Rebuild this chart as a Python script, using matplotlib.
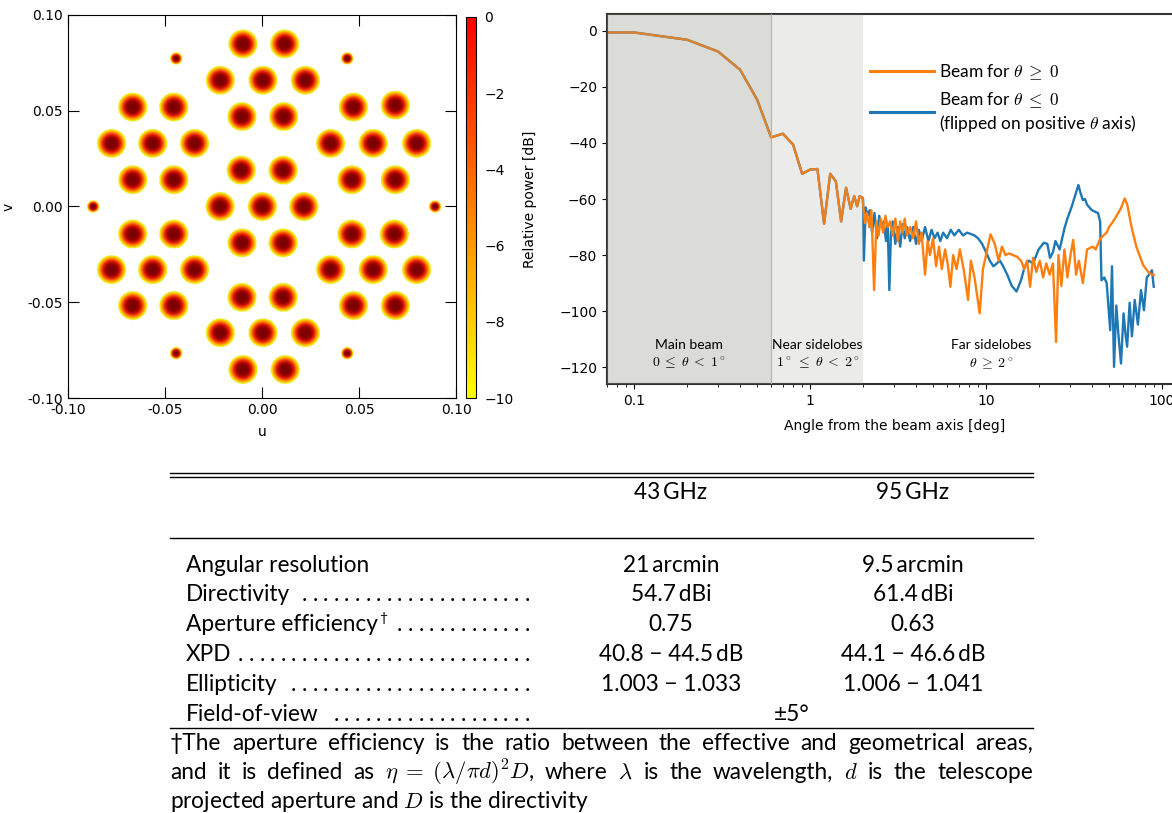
import numpy as np
import matplotlib.pyplot as plt
from matplotlib.colors import LinearSegmentedColormap, Normalize
from matplotlib.cm import ScalarMappable
from matplotlib.lines import Line2D

plt.rcParams['mathtext.fontset'] = 'cm'

W, H = 1172, 813
TXT = ['Lato', 'DejaVu Sans']

# --- focal plane beams (u, v centres and beam widths) ---
beam_u = [-0.0098, 0.0117,
          -0.0215, 0.0005, 0.0224,
          -0.0667, -0.0455, 0.0472, 0.0688,
          -0.0103, 0.0112,
          -0.0776, -0.0564, -0.0348, 0.0354, 0.0574, 0.0798,
          -0.0107, 0.0109,
          -0.0667, -0.0455, 0.0464, 0.0688,
          -0.0216, 0.0002, 0.0216,
          -0.0667, -0.0455, 0.0464, 0.0683,
          -0.0103, 0.0109,
          -0.0776, -0.0564, -0.0348, 0.0354, 0.0574, 0.0798,
          -0.0103, 0.0109,
          -0.0667, -0.0455, 0.0472, 0.0688,
          -0.0215, 0.0005, 0.0224,
          -0.0098, 0.0120,
          -0.0443, 0.0440, -0.0871, 0.0893, -0.0443, 0.0440]
beam_v = [0.085, 0.085,
          0.066, 0.066, 0.066,
          0.052, 0.052, 0.052, 0.053,
          0.047, 0.047,
          0.033, 0.033, 0.033, 0.033, 0.033, 0.033,
          0.019, 0.019,
          0.014, 0.014, 0.014, 0.014,
          0.0, 0.0, 0.0,
          -0.0144, -0.0144, -0.0144, -0.0144,
          -0.019, -0.019,
          -0.033, -0.033, -0.033, -0.033, -0.033, -0.033,
          -0.0475, -0.0475,
          -0.0518, -0.0518, -0.0518, -0.0518,
          -0.066, -0.066, -0.066,
          -0.0852, -0.0852,
          0.0774, 0.0774, 0.0, 0.0, -0.0767, -0.0767]
beam_width = [0.0075] * 49 + [0.0032] * 6
cbar_ticks = [0, -2, -4, -6, -8, -10]

# --- radiation pattern cuts ---
theta_core = [0.07, 0.1, 0.2, 0.3, 0.4, 0.5, 0.6, 0.7, 0.8, 0.9, 1.0, 1.1, 1.2,
              1.3, 1.4, 1.5, 1.6, 1.7, 1.78, 1.85, 1.91, 1.98]
power_core = [-0.6, -0.6, -3.2, -7.4, -13.9, -24.6, -38.0, -36.7, -40.6, -51.0,
              -49.5, -49.3, -68.8, -51.0, -53.7, -68.0, -56.0, -63.5, -59.0,
              -62.6, -59.0, -59.5]
theta_neg_far = [2.0, 2.02, 2.07, 2.12, 2.18, 2.25, 2.32, 2.4, 2.47, 2.55, 2.62,
                 2.7, 2.76, 2.82, 2.88, 2.95, 3.05, 3.15, 3.25, 3.35, 3.45, 3.55,
                 3.7, 3.85, 4.0, 4.15, 4.3, 4.5, 4.7, 4.9, 5.1, 5.3, 5.5, 5.7,
                 6.0, 6.3, 6.6, 7.0, 7.4, 7.8, 8.2, 8.6, 9.0, 9.5, 10.0, 10.5,
                 11.0, 11.5, 12.0, 12.5, 13.2, 14.0, 14.9, 15.8, 16.6, 17.5, 18.5,
                 19.9, 21.3, 22.3, 23.1, 24.0, 24.8, 26.2, 27.9, 29.0, 30.7, 32.0,
                 33.5, 34.5, 35.5, 36.5, 37.5, 39.8, 41.5, 43.3, 44.5, 45.3, 47.0,
                 48.5, 50.8, 52.0, 53.4, 55.0, 56.5, 58.5, 60.5, 62.0, 63.4, 65.5,
                 67.5, 70.0, 73.0, 76.0, 79.0, 82.0, 85.3, 87.7, 89.8]
power_neg_far = [-60, -82, -63, -66, -64, -72, -65, -74, -66, -70, -68, -75, -69,
                 -92.5, -72, -68, -76, -70, -77, -69, -74, -70, -75, -70, -76,
                 -71, -75, -70, -75, -71, -74, -72, -75, -72, -74, -71, -73, -71,
                 -73, -72, -72.5, -73, -74, -76, -79, -82, -84, -83, -82, -84,
                 -87, -91, -93, -89, -84, -82, -83, -78, -75.6, -76, -81, -79,
                 -75, -78, -70.5, -67, -62.7, -59, -55, -58, -60.4, -60, -62,
                 -63.9, -64.5, -65, -68, -89, -88, -90, -106.8, -84, -119.9, -98,
                 -108, -118.7, -100.8, -108, -112.7, -97, -109, -96, -104.8, -92.5,
                 -99.7, -88, -86.6, -85.4, -91.3]
theta_pos_far = [2.0, 2.05, 2.1, 2.17, 2.23, 2.31, 2.38, 2.45, 2.52, 2.6, 2.68,
                 2.76, 2.85, 2.95, 3.05, 3.15, 3.25, 3.35, 3.45, 3.55, 3.7, 3.85,
                 4.0, 4.15, 4.3, 4.5, 4.65, 4.8, 5.0, 5.2, 5.4, 5.6, 5.85, 6.05,
                 6.27, 6.5, 6.8, 7.1, 7.5, 7.9, 8.2, 8.6, 9.2, 9.6, 10.0, 10.6,
                 11.2, 11.8, 12.3, 12.9, 13.5, 14.2, 15.0, 15.8, 16.5, 17.1, 17.8,
                 18.5, 19.3, 20.2, 21.1, 22.0, 23.0, 24.0, 25.0, 25.8, 26.8, 27.9,
                 29.0, 30.2, 31.3, 32.5, 33.7, 35.5, 36.5, 37.5, 40.4, 42.0, 44.2,
                 46.5, 48.5, 50.0, 52.0, 55.0, 58.5, 61.4, 63.5, 67.1, 71.5, 78.2,
                 85.0, 89.8]
power_pos_far = [-62, -68.6, -65, -70, -64, -92.5, -68, -73, -67, -72, -66, -70,
                 -68, -73, -67, -75, -68, -72, -67, -73, -70, -74, -68, -76, -72,
                 -87, -75, -80, -74, -84, -77, -85, -78, -83, -91.3, -80, -85,
                 -78, -86, -96, -82, -88, -100.8, -85, -80, -72.6, -76, -82, -77,
                 -80, -79.4, -80, -80.6, -82, -85, -82, -91.3, -81, -86, -82, -88,
                 -83, -87, -83, -111, -80, -91, -78, -88, -80, -74.6, -87, -82,
                 -90, -84, -78, -77, -78, -74.6, -73, -72, -70, -68.6, -66.2,
                 -63.3, -59.8, -62, -69.9, -77, -83.6, -86.6, -87.1]
x_ticks = [0.1, 1, 10, 100]
x_tick_labels = ['0.1', '1', '10', '100']
y_ticks = [0, -20, -40, -60, -80, -100, -120]

# --- table ---
freqs = ['43\u2009GHz', '95\u2009GHz']
row_names = ['Angular resolution', 'Directivity', 'Aperture efficiency\u2020',
             'XPD', 'Ellipticity', 'Field-of-view']
vals_43 = ['21\u2009arcmin', '54.7\u2009dBi', '0.75', '40.8 \u2212 44.5\u2009dB',
           '1.003 \u2212 1.033']
vals_95 = ['9.5\u2009arcmin', '61.4\u2009dBi', '0.63', '44.1 \u2212 46.6\u2009dB',
           '1.006 \u2212 1.041']
fov = '\u00b15\u00b0'
note = [['\u2020The', 'aperture', 'efficiency', 'is', 'the', 'ratio', 'between', 'the',
         'effective', 'and', 'geometrical', 'areas,'],
        ['and', 'it', 'is', 'defined', 'as', '$\\eta\\;=\\;(\\lambda/\\pi d)^2D$,', 'where',
         '$\\lambda$', 'is', 'the', 'wavelength,', '$d$', 'is', 'the', 'telescope'],
        ['projected aperture and $D$ is the directivity']]

fig = plt.figure(figsize=(W / 100, H / 100), dpi=100)


def fx(x):
    return x / W


def fy(y):
    return 1 - y / H


# ---------- left: beam footprints ----------
ax1 = fig.add_axes([fx(68), fy(398), 388 / W, 383 / H])
g = np.linspace(-0.1, 0.1, 900)
uu, vv = np.meshgrid(g, g)
pw = np.full(uu.shape, -np.inf)
for u0, v0, w0 in zip(beam_u, beam_v, beam_width):
    pw = np.maximum(pw, -10 * ((uu - u0) ** 2 + (vv - v0) ** 2) / w0 ** 2)
img = np.ma.masked_less(pw, -10)
beam_cmap = LinearSegmentedColormap.from_list(
    'beam', [(0.0, '#c8f040'), (0.1, '#f4f010'), (0.22, '#ffc800'), (0.42, '#ff7a00'),
             (0.65, '#e01800'), (0.85, '#900000'), (1.0, '#780000')])
beam_cmap.set_bad('white')
ax1.imshow(img, extent=[-0.1, 0.1, -0.1, 0.1], origin='lower', cmap=beam_cmap,
           vmin=-10, vmax=0, interpolation='bilinear', aspect='auto')
ax1.set_xlim(-0.1, 0.1); ax1.set_ylim(-0.1, 0.1)
ax1.set_xticks([-0.1, -0.05, 0, 0.05, 0.1])
ax1.set_yticks([-0.1, -0.05, 0, 0.05, 0.1])
ax1.xaxis.set_major_formatter(plt.FormatStrFormatter('%.2f'))
ax1.yaxis.set_major_formatter(plt.FormatStrFormatter('%.2f'))
ax1.tick_params(direction='in', top=True, right=True, length=8, labelsize=10)
ax1.set_xlabel('u', fontsize=10, labelpad=6)
ax1.set_ylabel('v', fontsize=10)
ax1.yaxis.set_label_coords(-0.135, 0.5)

cax = fig.add_axes([fx(466), fy(398), 10 / W, 381 / H])
cb = fig.colorbar(ScalarMappable(Normalize(-10, 0), cmap='autumn_r'), cax=cax,
                  ticks=cbar_ticks)
cax.tick_params(length=0, labelsize=10, pad=6)

# ---------- right: beam pattern ----------
ax2 = fig.add_axes([fx(607), fy(384), 575 / W, 370 / H])
ax2.plot(theta_core + theta_neg_far, power_core + power_neg_far, color='#1f77b4',
         lw=1.7)
ax2.plot(theta_core + theta_pos_far, power_core + power_pos_far, color='#ff7f0e',
         lw=1.7)
ax2.set_xscale('log')
ax2.set_xlim(0.07, 130); ax2.set_ylim(-126, 6)
ax2.axvspan(0.05, 0.6, color='#8a8a7c', alpha=0.3, lw=0, zorder=3)
ax2.axvspan(0.6, 2.0, color='#8a8a80', alpha=0.17, lw=0, zorder=3)
ax2.axvline(0.6, color='#b4b4b0', lw=0.8, zorder=4)
ax2.set_xticks(x_ticks, x_tick_labels)
ax2.set_yticks(y_ticks)
ax2.tick_params(labelsize=10)
for s in ax2.spines.values():
    s.set_linewidth(1.5); s.set_color('#333333')
ax2.set_xlabel('Angle from the beam axis [deg]', fontsize=10, labelpad=8)
ax2.set_ylabel('Relative power [dB]', fontsize=10)
ax2.yaxis.set_label_coords(-0.122, 0.5)

lab_kw = dict(ha='center', va='center', fontsize=10, family=TXT, linespacing=1.3,
              zorder=5)
ax2.text(0.205, -115.7, 'Main beam\n$0\\;\\leq\\;\\theta\\;<\\;1^\\circ$', **lab_kw)
ax2.text(1.1, -115.7, 'Near sidelobes\n$1^\\circ\\;\\leq\\;\\theta\\;<\\;2^\\circ$', **lab_kw)
ax2.text(10.7, -115.7, 'Far sidelobes\n$\\theta\\;\\geq\\;2^\\circ$', **lab_kw)

handles = [Line2D([], [], color='#ff7f0e', lw=2.2), Line2D([], [], color='#1f77b4', lw=2.2)]
ax2.legend(handles, ['Beam for $\\theta\\;\\geq\\;0$',
                     'Beam for $\\theta\\;\\leq\\;0$\n(flipped on positive $\\theta$ axis)'],
           loc='upper left', bbox_to_anchor=(fx(854), fy(47)),
           bbox_transform=fig.transFigure, frameon=False, handlelength=3.7,
           handletextpad=0.3, labelspacing=0.45, prop={'family': TXT, 'size': 12.5})

# ---------- bottom: table ----------
X0, X1 = 170, 1033
for y in [473, 477, 538, 728]:
    fig.add_artist(Line2D([fx(X0), fx(X1)], [fy(y), fy(y)], color='black', lw=1.0))

tk = dict(fontsize=16.3, family=TXT)
fig.text(fx(671), fy(499), freqs[0], ha='center', va='baseline', **tk)
fig.text(fx(913), fy(499), freqs[1], ha='center', va='baseline', **tk)

r = fig.canvas.get_renderer()
row_y = [572, 601, 631, 661, 691, 721]
for i, (name, y) in enumerate(zip(row_names, row_y)):
    mark = name.endswith('\u2020')
    t = fig.text(fx(186), fy(y), name.rstrip('\u2020'), ha='left', va='baseline', **tk)
    end = t.get_window_extent(r).x1
    if mark:
        fig.text(fx(end + 1), fy(y - 9), '\u2020', ha='left', va='baseline',
                 fontsize=10, family=TXT)
        end += 8
    if i > 0:
        xd = 527
        while xd > end + 8:
            fig.text(fx(xd), fy(y), '.', ha='center', va='baseline', **tk)
            xd -= 10.6
    if i < len(vals_43):
        fig.text(fx(671), fy(y), vals_43[i], ha='center', va='baseline', **tk)
        fig.text(fx(913), fy(y), vals_95[i], ha='center', va='baseline', **tk)
fig.text(fx(792), fy(row_y[-1]), fov, ha='center', va='baseline', **tk)

note_y = [750, 779, 808]
for words, y in zip(note, note_y):
    texts = [fig.text(0, fy(y), w_, ha='left', va='baseline', **tk) for w_ in words]
    widths = [t.get_window_extent(r).width for t in texts]
    gap = (X1 - X0 - sum(widths)) / (len(words) - 1) if len(words) > 1 else 0
    x = X0
    for t, w_ in zip(texts, widths):
        t.set_x(fx(x))
        x += w_ + gap

fig.savefig('out.png', dpi=100)
